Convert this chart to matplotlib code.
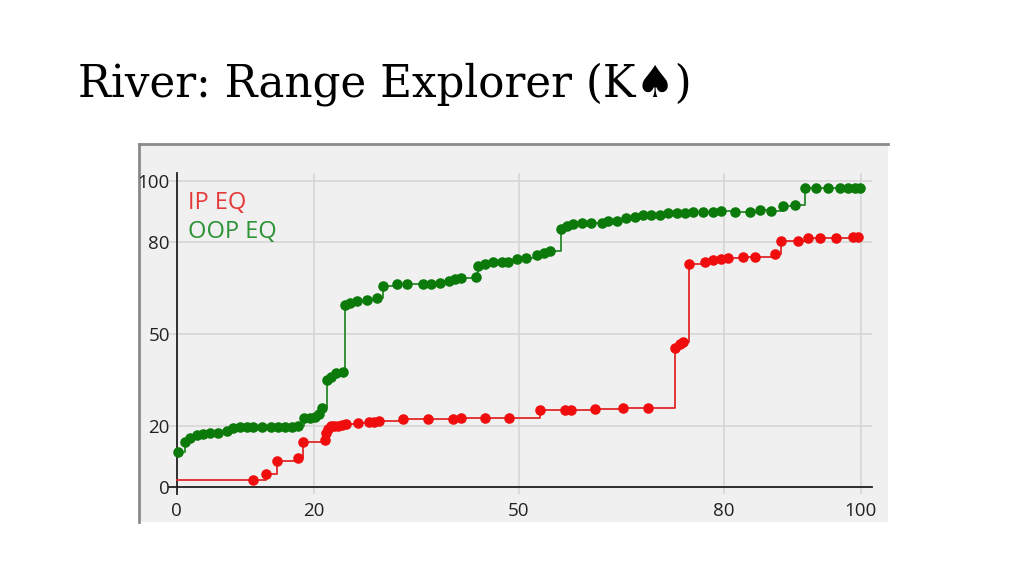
import numpy as np
import matplotlib
matplotlib.use("Agg")
import matplotlib.pyplot as plt
from matplotlib.patches import Rectangle

# Range explorer data (percent of range vs equity)
oop_x = [0.2, 1.2, 1.9, 2.9, 3.8, 4.8, 6.0, 7.3, 8.2, 9.2, 10.2, 11.2, 12.4, 13.8,
         14.8, 15.8, 16.8, 17.7, 18.6, 19.4, 20.2, 20.8, 21.2, 21.9, 22.6, 23.3,
         24.3, 24.6, 25.3, 26.3, 27.8, 29.2, 30.2, 32.2, 33.7, 36.0, 37.2, 38.5,
         39.8, 40.7, 41.6, 43.8, 44.0, 45.1, 46.2, 47.5, 48.4, 49.7, 51.1, 52.6,
         53.7, 54.6, 56.1, 57.0, 57.9, 59.2, 60.6, 62.1, 63.1, 64.3, 65.7, 67.0,
         68.2, 69.4, 70.6, 71.8, 73.1, 74.3, 75.5, 77.0, 78.4, 79.6, 81.6, 83.8,
         85.2, 86.9, 88.6, 90.4, 91.8, 93.5, 95.2, 96.9, 98.1, 99.1, 99.9]
oop_eq = [11.5, 14.8, 15.9, 17.0, 17.3, 17.5, 17.7, 18.4, 19.2, 19.5, 19.5, 19.5,
          19.6, 19.5, 19.6, 19.7, 19.7, 20.0, 22.4, 22.6, 23.0, 23.8, 25.7, 35.0,
          36.0, 37.2, 37.7, 59.5, 60.0, 60.8, 61.1, 61.6, 65.6, 66.3, 66.4, 66.3,
          66.3, 66.6, 67.4, 67.9, 68.2, 68.6, 72.2, 72.9, 73.6, 73.4, 73.6, 74.4,
          74.7, 75.8, 76.5, 77.0, 84.2, 85.3, 85.9, 86.2, 86.2, 86.2, 86.9, 87.0,
          87.8, 88.3, 88.9, 88.9, 88.9, 89.4, 89.4, 89.4, 89.8, 89.7, 89.7, 90.3,
          90.0, 90.0, 90.5, 90.3, 91.8, 92.2, 97.6, 97.6, 97.6, 97.6, 97.6, 97.6,
          97.6]

ip_start = 2.3
ip_x = [11.1, 13.1, 14.6, 17.7, 18.5, 21.6, 21.8, 22.1, 22.5, 23.0, 23.5, 24.1,
        24.8, 26.5, 28.1, 28.8, 29.5, 33.0, 36.7, 40.4, 41.6, 45.0, 48.6, 53.1,
        56.7, 57.6, 61.2, 65.2, 68.9, 72.9, 73.5, 74.0, 74.9, 77.2, 78.4, 79.6,
        80.6, 82.8, 84.6, 87.4, 88.3, 90.8, 92.3, 94.1, 96.4, 98.9, 99.6]
ip_eq = [2.4, 4.1, 8.6, 9.4, 14.8, 15.5, 17.5, 19.0, 19.8, 20.0, 20.0, 20.2,
         20.7, 20.8, 21.1, 21.3, 21.6, 22.2, 22.2, 22.2, 22.5, 22.5, 22.5, 25.0,
         25.0, 25.0, 25.4, 25.9, 25.9, 45.3, 46.7, 47.4, 72.9, 73.4, 74.3, 74.5,
         74.9, 75.3, 75.3, 76.0, 80.5, 80.4, 81.2, 81.2, 81.2, 81.7, 81.7]

ticks = [0, 20, 50, 80, 100]

W, H = 1024, 576
fig = plt.figure(figsize=(W / 100, H / 100), dpi=100)
fig.patch.set_facecolor("white")

# screenshot panel behind the chart
fig.add_artist(Rectangle((139 / W, 1 - 522 / H), (888 - 139) / W, (522 - 144) / H,
                         transform=fig.transFigure, facecolor="#f0f0f0",
                         edgecolor="none", zorder=-2))
fig.add_artist(plt.Line2D([139 / W, 888 / W], [1 - 144 / H, 1 - 144 / H],
                          transform=fig.transFigure, color="#8a8a8a", lw=2, zorder=-1))
fig.add_artist(plt.Line2D([139 / W, 139 / W], [1 - 144 / H, 1 - 522 / H],
                          transform=fig.transFigure, color="#8a8a8a", lw=2, zorder=-1))

fig.text(78 / W, 1 - 84 / H, "River: Range Explorer (K\u2660)", fontsize=31.4,
         family=["DejaVu Serif", "DejaVu Sans"], va="center", ha="left", color="black")

ax = fig.add_axes([169.3 / W, 1 - 494 / H, (871.7 - 169.3) / W, (494 - 172.7) / H])
ax.set_zorder(2)
ax.set_facecolor("none")
ax.set_xlim(-1.1, 101.6)
ax.set_ylim(-2.3, 102.7)

for s in ["top", "right"]:
    ax.spines[s].set_visible(False)
ax.spines["left"].set_position(("data", 0))
ax.spines["bottom"].set_position(("data", 0))
for s in ["left", "bottom"]:
    ax.spines[s].set_color("#222222")
    ax.spines[s].set_linewidth(1.3)

ax.set_xticks(ticks)
ax.set_yticks(ticks)
ax.tick_params(axis="both", length=0, labelsize=13.5, labelcolor="#222222")
ax.tick_params(axis="x", pad=11)
ax.tick_params(axis="y", pad=5)
for lab in ax.get_xticklabels() + ax.get_yticklabels():
    lab.set_family("Open Sans")
ax.grid(True, color="#d6d6d6", lw=1.2)
ax.set_axisbelow(True)

ax.plot(oop_x, oop_eq, drawstyle="steps-post", color="#2a8a2a", lw=1.3, zorder=3)
ax.plot(oop_x, oop_eq, "o", color="#0b7a0b", ms=7.6, mec="none", zorder=4)

ax.plot([0] + ip_x, [ip_start] + ip_eq, drawstyle="steps-post", color="#e02828",
        lw=1.3, zorder=3)
ax.plot(ip_x, ip_eq, "o", color="#f00d0d", ms=7.6, mec="none", zorder=4)

ax.text(188 / W, 1 - 203 / H, "IP EQ", color="#e43a3a", fontsize=17,
        family="Open Sans", va="center", transform=fig.transFigure)
ax.text(188 / W, 1 - 232 / H, "OOP EQ", color="#2e9236", fontsize=17,
        family="Open Sans", va="center", transform=fig.transFigure)

fig.savefig("out.png", dpi=100)
